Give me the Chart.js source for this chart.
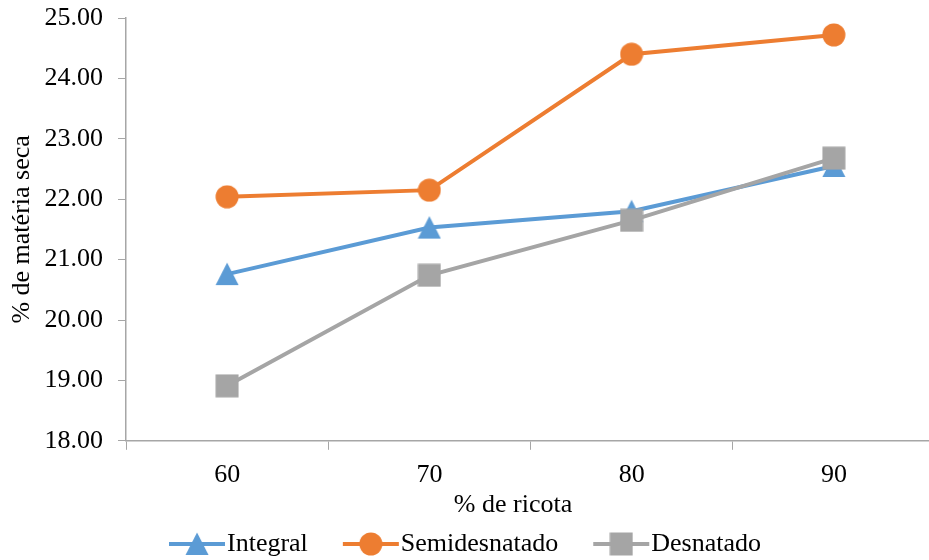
<!DOCTYPE html>
<html>
<head>
<meta charset="utf-8">
<script src="https://cdn.jsdelivr.net/npm/chart.js@4/dist/chart.umd.min.js"></script>
<style>
  html, body { margin: 0; padding: 0; background: #fff; overflow: hidden; }
  #wrap { width: 936px; height: 560px; }
</style>
</head>
<body>
<div id="wrap"><canvas id="chart" width="936" height="560"></canvas></div>
<script>
const categories = ['60', '70', '80', '90'];
const integral = [20.76, 21.53, 21.80, 22.55];
const semidesnatado = [22.04, 22.15, 24.40, 24.72];
const desnatado = [18.91, 20.74, 21.65, 22.68];
const yTicks = [18, 19, 20, 21, 22, 23, 24, 25];
const xTitle = '% de ricota';
const yTitle = '% de matéria seca';

const FONT = 'Liberation Serif';
const FS = 26;
const LINE_W = 4;

// marker images, sized like the original markers
function marker(color, style) {
    const c = document.createElement('canvas');
    c.width = 24;
    c.height = 24;
    const g = c.getContext('2d');
    g.fillStyle = color;
    g.beginPath();
    if (style === 'triangle') {
        g.moveTo(12, 0.5);
        g.lineTo(23.5, 23);
        g.lineTo(0.5, 23);
        g.closePath();
    } else if (style === 'circle') {
        g.arc(12, 12, 11.5, 0, Math.PI * 2);
    } else {
        g.rect(0.5, 0.5, 23, 23);
    }
    g.fill();
    return c;
}

const series = [
    { label: 'Integral', data: integral, color: '#5B9BD5', style: 'triangle', order: 3 },
    { label: 'Semidesnatado', data: semidesnatado, color: '#ED7D31', style: 'circle', order: 2 },
    { label: 'Desnatado', data: desnatado, color: '#A5A5A5', style: 'rect', order: 1 }
];
series.forEach(s => { s.img = marker(s.color, s.style); });

// x title and legend under the plot
const bottomTexts = {
    id: 'bottomTexts',
    afterDraw(chart) {
        const g = chart.ctx;
        g.save();
        g.font = FS + 'px "' + FONT + '"';
        g.fillStyle = '#000';
        g.textBaseline = 'middle';
        g.textAlign = 'center';
        g.fillText(xTitle, 513, 505);

        const lineW = 56, gapText = 2, gapItem = 35, y = 544;
        const widths = series.map(s => g.measureText(s.label).width);
        let total = 0;
        widths.forEach((w, i) => { total += lineW + gapText + w + (i ? gapItem : 0); });
        let x = 465 - total / 2;
        g.textAlign = 'left';
        series.forEach((s, i) => {
            g.strokeStyle = s.color;
            g.lineWidth = LINE_W;
            g.beginPath();
            g.moveTo(x, y);
            g.lineTo(x + lineW, y);
            g.stroke();
            g.drawImage(s.img, x + lineW / 2 - 12, y - 12);
            g.fillStyle = '#000';
            g.fillText(s.label, x + lineW + gapText, y);
            x += lineW + gapText + widths[i] + gapItem;
        });
        g.restore();
    }
};

const ctx = document.getElementById('chart').getContext('2d');
new Chart(ctx, {
    type: 'line',
    data: {
        labels: categories,
        datasets: series.map(s => ({
            label: s.label,
            data: s.data,
            borderColor: s.color,
            backgroundColor: s.color,
            borderWidth: LINE_W,
            pointStyle: s.img,
            pointRadius: 12,
            pointHoverRadius: 12,
            tension: 0,
            order: s.order
        }))
    },
    options: {
        responsive: false,
        animation: false,
        events: [],
        layout: { autoPadding: false, padding: { top: 18, right: 1, left: 7, bottom: 59 } },
        plugins: {
            tooltip: { enabled: false },
            legend: { display: false }
        },
        scales: {
            x: {
                type: 'category',
                offset: true,
                afterFit: s => { s.paddingLeft = 0; s.paddingRight = 0; },
                grid: {
                    offset: true,
                    drawOnChartArea: false,
                    drawTicks: true,
                    tickLength: 9,
                    color: '#A6A6A6'
                },
                border: { color: '#A6A6A6', width: 1.5 },
                ticks: {
                    color: '#000',
                    padding: 10,
                    font: { family: FONT, size: FS }
                }
            },
            y: {
                min: yTicks[0],
                max: yTicks[yTicks.length - 1],
                afterBuildTicks: axis => { axis.ticks = yTicks.map(v => ({ value: v })); },
                afterFit: s => { s.paddingTop = 0; s.paddingBottom = 0; s.width = 119; },
                grid: {
                    drawOnChartArea: false,
                    drawTicks: true,
                    tickLength: 8,
                    color: '#A6A6A6'
                },
                border: { color: '#A6A6A6', width: 1.5 },
                ticks: {
                    color: '#000',
                    padding: 15,
                    font: { family: FONT, size: FS },
                    callback: v => Number(v).toFixed(2)
                },
                title: {
                    display: true,
                    text: yTitle,
                    color: '#000',
                    padding: { top: 0, bottom: 7 },
                    font: { family: FONT, size: FS }
                }
            }
        }
    },
    plugins: [bottomTexts]
});
</script>
</body>
</html>
